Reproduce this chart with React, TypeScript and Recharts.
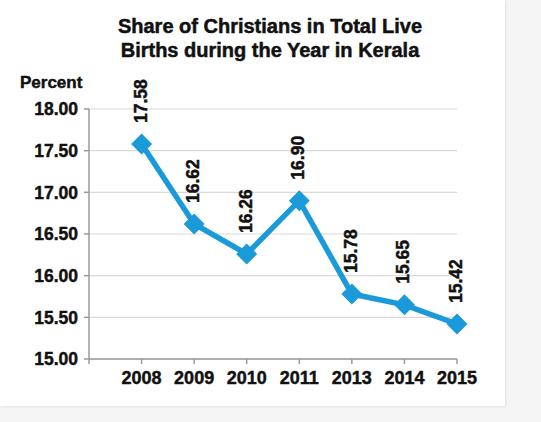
import React from 'react';
import {
  CartesianGrid,
  LabelList,
  Line,
  LineChart,
  XAxis,
  YAxis,
} from 'recharts';

const years = ['2008', '2009', '2010', '2011', '2013', '2014', '2015'];
const shares = [17.58, 16.62, 16.26, 16.9, 15.78, 15.65, 15.42];
const yTicks = [15, 15.5, 16, 16.5, 17, 17.5, 18];

const FONT = '"Liberation Sans", Arial, sans-serif';
const BLUE = '#1a9ad8';
const INK = '#111';

const data = years.map((year, i) => ({ idx: i + 1, year, share: shares[i] }));

// heavier look, the original uses a black condensed face
const heavy = { stroke: INK, strokeWidth: 0.45, paintOrder: 'stroke' } as const;

function Diamond(props: any) {
  const { cx, cy } = props;
  if (cx == null || cy == null) return null;
  const r = 10.5;
  return (
    <polygon
      points={`${cx},${cy - r} ${cx + r},${cy} ${cx},${cy + r} ${cx - r},${cy}`}
      fill={BLUE}
    />
  );
}

function RotatedLabel(props: any) {
  const { x, y, value } = props;
  return (
    <g transform={`translate(${x - 1},${y - 21}) rotate(-90)`}>
      <text
        x={0}
        y={0}
        dy="0.34em"
        textAnchor="start"
        fontFamily={FONT}
        fontWeight="bold"
        fontSize={17.5}
        fill={INK}
        {...heavy}
      >
        {Number(value).toFixed(2)}
      </text>
    </g>
  );
}

export default function App() {
  return (
    <div
      style={{
        position: 'absolute',
        left: 0,
        top: 0,
        width: 541,
        height: 422,
        background: '#f5f5f5',
        overflow: 'hidden',
      }}
    >
      <div
        style={{
          position: 'absolute',
          left: 0,
          top: 0,
          width: 505,
          height: 406,
          background: '#fff',
          boxShadow: '1px 1px 2px rgba(0,0,0,0.08)',
        }}
      />
      <div
        style={{
          position: 'absolute',
          left: 70,
          top: 14,
          width: 400,
          textAlign: 'center',
          fontFamily: FONT,
          fontWeight: 'bold',
          fontSize: 20,
          lineHeight: '24px',
          color: INK,
          WebkitTextStroke: '0.5px #111',
        }}
      >
        Share of Christians in Total Live
        <br />
        Births during the Year in Kerala
      </div>
      <div
        style={{
          position: 'absolute',
          left: 20,
          top: 73,
          fontFamily: FONT,
          fontWeight: 'bold',
          fontSize: 17,
          color: INK,
          WebkitTextStroke: '0.45px #111',
        }}
      >
        Percent
      </div>
      <div style={{ position: 'absolute', left: 0, top: 0 }}>
        <LineChart
          width={541}
          height={422}
          data={data}
          margin={{ top: 109, right: 84, bottom: 23, left: 0 }}
        >
          <CartesianGrid vertical={false} stroke="#dadada" strokeWidth={1.2} />
          <XAxis
            type="number"
            dataKey="idx"
            domain={[0, 7]}
            ticks={[0, 1, 2, 3, 4, 5, 6, 7]}
            tickFormatter={(v: number) => (v >= 1 ? years[v - 1] : '')}
            interval={0}
            height={40}
            stroke="#9a9a9a"
            strokeWidth={1.5}
            tickSize={5}
            tickMargin={7}
            tick={{ fill: INK, fontFamily: FONT, fontWeight: 'bold', fontSize: 18, ...heavy }}
          />
          <YAxis
            type="number"
            domain={[15, 18]}
            ticks={yTicks}
            interval={0}
            width={89}
            stroke="#9a9a9a"
            strokeWidth={1.5}
            tickSize={5}
            tickMargin={6}
            tickFormatter={(v: number) => v.toFixed(2)}
            tick={{ fill: INK, fontFamily: FONT, fontWeight: 'bold', fontSize: 17.5, ...heavy }}
          />
          <Line
            type="linear"
            dataKey="share"
            stroke={BLUE}
            strokeWidth={5.5}
            dot={<Diamond />}
            activeDot={false}
            isAnimationActive={false}
          >
            <LabelList dataKey="share" content={<RotatedLabel />} />
          </Line>
        </LineChart>
      </div>
    </div>
  );
}
